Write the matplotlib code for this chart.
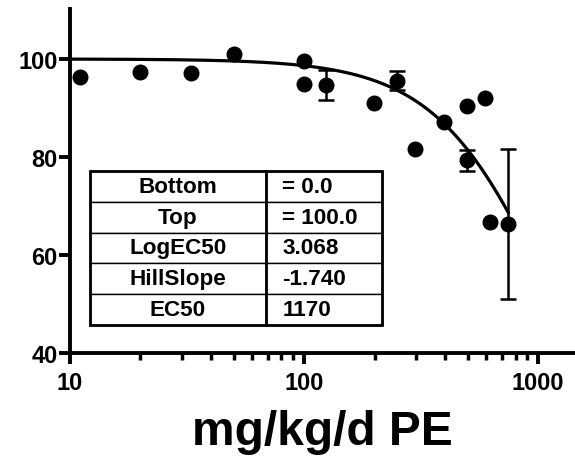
import numpy as np
import matplotlib
matplotlib.use("Agg")
import matplotlib.pyplot as plt
from matplotlib.patches import Rectangle

plt.rcParams['font.family'] = ['Liberation Sans', 'DejaVu Sans']
plt.rcParams['font.weight'] = 'bold'

# single points
dose = [11, 20, 33, 50, 100, 100, 199, 297, 394, 497, 590, 620]
resp = [96.3, 97.3, 97.1, 101.0, 99.5, 94.9, 91.0, 81.6, 87.1, 90.4, 92.0, 66.8]

# points with error bars
err_dose = [124, 249, 497, 745]
err_resp = [94.7, 95.6, 79.3, 66.3]
err_sd = [3.1, 2.0, 2.2, 15.3]

# fit parameters shown in the table
bottom, top = 0.0, 100.0
log_ec50 = 3.068
hill = -1.740

table_rows = [["Bottom", "= 0.0"],
              ["Top", "= 100.0"],
              ["LogEC50", "3.068"],
              ["HillSlope", "-1.740"],
              ["EC50", "1170"]]

fig = plt.figure(figsize=(5.75, 4.6), dpi=100)
ax = fig.add_axes([70 / 575, 1 - 354 / 460, 505 / 575, 344 / 460])

xfit = np.logspace(1, np.log10(745), 200)
yfit = bottom + (top - bottom) / (1 + 10 ** ((log_ec50 - np.log10(xfit)) * hill))
ax.plot(xfit, yfit, color='black', lw=2.3, zorder=2)

ax.plot(dose, resp, 'o', color='black', ms=10.5, zorder=3, clip_on=False)
ax.errorbar(err_dose, err_resp, yerr=err_sd, fmt='o', color='black', ms=10.5,
            elinewidth=1.8, capsize=5.5, capthick=1.8, zorder=3)

ax.set_xscale('log')
ax.set_xlim(10, 1436)
ax.set_ylim(40, 110.2)
ax.set_yticks([40, 60, 80, 100])
ax.set_xticks([10, 100, 1000])
ax.set_xticklabels(['10', '100', '1000'])

for s in ['top', 'right']:
    ax.spines[s].set_visible(False)
for s in ['left', 'bottom']:
    ax.spines[s].set_linewidth(2.8)

ax.tick_params(axis='both', which='major', length=8, width=2.8, labelsize=17)
ax.tick_params(axis='x', which='minor', length=5, width=2.5)
ax.tick_params(axis='x', which='major', pad=5)
ax.tick_params(axis='y', which='major', pad=1)
for lab in ax.get_xticklabels() + ax.get_yticklabels():
    lab.set_fontweight('bold')

ax.set_xlabel('mg/kg/d PE', fontsize=34.5, fontweight='bold')
ax.xaxis.set_label_coords(0.5, -0.163, transform=ax.transAxes)

tbl_bbox = [20 / 505, 28 / 344, 292 / 505, 154 / 344]
tbl = ax.table(cellText=table_rows, colWidths=[176 / 292, 116 / 292],
               cellLoc='center', bbox=tbl_bbox, zorder=5)
tbl.auto_set_font_size(False)
for (r, c), cell in tbl.get_celld().items():
    cell.set_linewidth(1.0)
    cell.set_facecolor('white')
    cell.get_text().set_fontsize(16.2)
    cell.get_text().set_fontweight('bold')
    if c == 1:
        cell._loc = 'left'
        cell.PAD = 0.14
        cell.get_text().set_ha('left')
ax.add_patch(Rectangle((tbl_bbox[0], tbl_bbox[1]), tbl_bbox[2], tbl_bbox[3],
                       transform=ax.transAxes, fill=False, lw=2.0,
                       edgecolor='black', zorder=6))
ax.plot([tbl_bbox[0] + 176 / 505] * 2, [tbl_bbox[1], tbl_bbox[1] + tbl_bbox[3]],
        transform=ax.transAxes, color='black', lw=2.0, zorder=6)

fig.savefig('out.png', dpi=100)
